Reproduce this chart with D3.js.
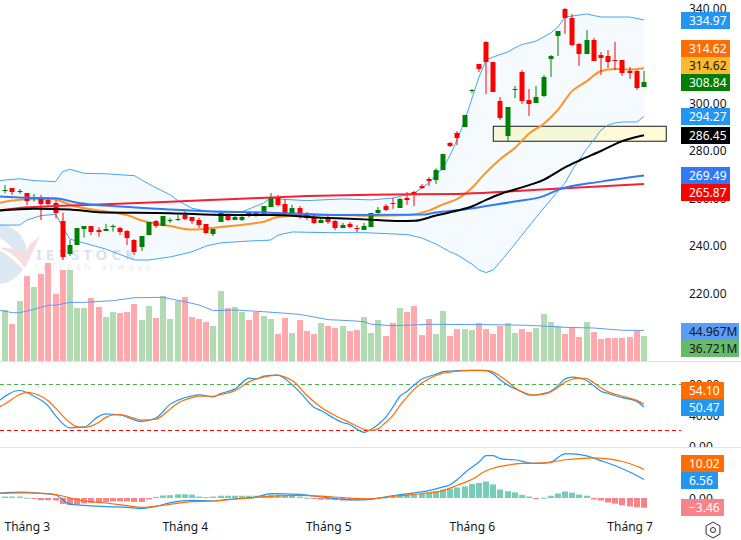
<!DOCTYPE html>
<html>
<head>
<meta charset="utf-8">
<script src="https://cdn.jsdelivr.net/npm/d3@7/dist/d3.min.js"></script>
<style>
  html, body { margin: 0; padding: 0; background: #fff; }
  svg { display: block; }
  text { font-family: "Noto Sans", sans-serif; font-size: 12px; }
</style>
</head>
<body>
<svg id="chart" width="741" height="540"></svg>
<script>
// Daily sessions: [open, high, low, close]
const ohlc = [
  [263.2,265.5,262.0,263.5],[264.1,264.1,261.3,262.3],[262.7,263.8,261.7,263.0],[262.1,262.1,257.1,258.9],
  [259.6,261.7,258.5,260.1],[260.0,261.3,250.7,257.6],[259.0,260.3,256.4,257.3],[257.8,259.2,251.4,253.4],
  [250.3,253.8,233.9,235.0],[236.4,242.3,235.6,240.2],[240.2,247.4,240.2,247.4],[247.0,248.2,243.3,248.2],
  [248.2,248.2,244.4,245.7],[246.4,247.7,243.7,245.7],[246.3,249.1,246.3,247.0],[247.5,248.9,245.8,248.1],
  [247.5,247.9,244.4,245.7],[246.1,246.5,240.2,243.0],[242.3,242.7,236.0,237.1],[239.5,244.0,237.7,244.0],
  [244.6,249.9,244.6,249.9],[250.3,250.7,247.4,248.4],[248.4,252.4,248.4,252.4],[250.3,251.6,249.5,250.7],
  [250.6,252.8,250.3,251.0],[252.8,254.4,250.7,251.2],[252.0,252.0,249.1,250.3],[250.7,251.6,247.4,248.8],
  [248.9,248.9,245.0,245.0],[244.7,247.0,244.0,247.0],[249.9,253.5,249.9,253.5],[253.3,253.3,250.3,250.9],
  [250.9,253.1,250.7,252.0],[250.9,253.1,250.3,252.0],[253.5,254.4,251.9,252.7],[253.5,254.4,252.1,253.0],
  [252.8,256.6,252.8,256.6],[256.4,262.1,256.4,260.4],[260.4,261.3,256.4,257.2],[257.5,259.6,252.8,253.3],
  [253.3,257.1,252.8,255.8],[255.8,256.6,251.3,253.3],[253.7,254.1,250.7,251.6],[252.0,253.3,249.1,249.5],
  [249.5,251.9,249.5,250.7],[251.2,252.8,249.1,249.9],[250.3,250.7,246.5,247.4],[247.4,249.5,247.4,248.6],
  [249.1,249.9,247.4,247.8],[247.4,248.6,245.7,246.8],[246.5,249.5,246.5,248.2],[247.8,253.7,247.8,253.7],
  [253.7,256.2,253.3,255.0],[256.6,257.5,254.5,255.0],[257.9,260.0,255.4,257.3],[255.8,260.0,255.8,259.6],
  [260.0,262.5,257.1,259.2],[262.5,263.0,256.6,261.3],[265.2,265.9,263.8,264.5],[268.0,268.8,265.1,267.2],
  [267.6,272.5,265.9,271.8],[271.8,278.5,271.8,278.5],[283.0,283.6,281.5,281.9],[287.4,288.2,282.3,285.3],
  [289.9,295.0,289.9,295.0],[304.8,305.9,304.2,305.3],[316.4,316.4,313.1,314.3],[325.7,326.1,303.8,317.3],
  [317.3,317.3,304.6,304.6],[300.8,302.5,292.8,293.7],[286.1,298.3,283.7,298.3],[305.2,307.2,302.1,305.7],
  [313.1,313.9,299.6,300.8],[301.3,305.9,294.5,299.6],[300.0,307.2,300.0,302.5],[303.0,311.8,302.5,311.0],
  [318.5,320.2,311.0,319.8],[328.2,330.3,319.8,330.3],[339.6,340.0,329.1,335.8],[335.8,337.5,324.0,324.4],
  [324.8,325.3,315.6,320.6],[320.6,330.7,320.6,326.5],[326.5,327.4,317.7,317.7],[320.2,321.5,311.8,319.0],
  [319.8,322.3,314.7,317.3],[318.1,325.7,313.9,317.7],[318.1,318.1,311.4,312.6],[313.5,315.2,310.1,312.6],
  [313.5,313.9,305.5,306.3],[306.7,313.5,306.7,308.84]
];

// Traded volume per session, in millions of shares
const volume = [
  75.0,54.4,88.2,124.9,108.8,127.9,144.1,98.5,133.8,133.8,77.9,77.9,92.6,79.4,64.7,72.0,70.6,72.0,83.8,60.3,
  80.9,63.2,95.6,61.7,88.2,94.1,64.7,61.7,57.3,51.5,102.9,77.9,79.4,72.0,60.3,72.0,66.2,61.7,39.7,63.2,
  41.2,60.3,44.1,39.7,55.9,51.5,48.5,51.5,44.1,45.6,64.7,41.2,60.3,36.8,55.9,77.9,71.9,80.9,38.2,61.7,
  39.7,73.5,36.8,47.0,47.0,45.6,55.9,47.0,39.7,51.5,55.9,41.2,47.0,42.6,48.5,69.1,57.3,51.5,39.7,50.0,
  35.3,57.3,42.6,32.3,33.8,33.8,33.8,35.3,44.1,36.721
];

// MACD histogram per session
const macdHist = [
  0.5,0.5,0.5,0.1,-0.05,-0.8,-0.8,-0.9,-2.1,-2.5,-2.3,-1.9,-1.7,-1.5,-1.5,-1.2,-1.2,-1.2,-1.4,-1.4,
  -0.5,0.4,0.9,1.0,1.3,1.3,1.2,0.5,0.3,0.5,0.8,0.8,0.8,0.8,0.8,0.8,0.9,1.2,1.2,1.0,
  0.8,0.5,0.1,-0.2,-0.6,-0.6,-0.7,-0.9,-0.9,-0.8,-0.7,-0.1,0.1,0.2,0.4,0.8,1.1,1.3,1.5,1.9,
  2.4,3.0,3.3,3.7,4.1,5.0,5.3,5.8,4.8,3.0,2.4,2.0,1.1,0.5,-0.2,0.1,0.8,1.6,2.3,1.9,
  1.2,0.8,-0.5,-0.9,-1.6,-2.0,-2.6,-3.0,-3.3,-3.46
];

// Overlay series as [session, value] readings
const bandUpper = [[-1,267.3],[2,268.1],[4,267.3],[7,266.9],[8,271.1],[9,272.1],[11,270.4],[14,270.2],[18,269.4],[19,267.6],[21,264.3],[23,261.3],[24,259.0],[26,255.7],[28,254.5],[31,253.6],[33,254.2],[36,257.9],[37,260.0],[39,259.4],[42,258.9],[47,259.6],[51,259.2],[54,260.0],[57,262.1],[59,266.3],[60,269.7],[61,272.6],[62,278.1],[63,284.9],[64,292.4],[65,301.7],[66,310.9],[67,318.1],[68,319.4],[70,321.5],[71,323.2],[72,324.6],[74,326.1],[76,329.5],[77,332.0],[78,336.2],[79,336.6],[81,337.5],[83,336.2],[87,336.2],[89,334.97]];
const bandLower = [[-1,248.6],[2,248.6],[3,250.7],[5,252.6],[7,253.1],[8,247.8],[9,242.7],[11,241.0],[14,238.5],[18,233.9],[20,233.9],[23,235.2],[26,237.3],[28,239.8],[30,241.1],[34,241.9],[36,242.1],[37,242.3],[38,244.4],[40,245.7],[45,245.4],[50,245.4],[56,244.6],[58,243.2],[60,240.6],[62,237.3],[63,236.0],[65,232.2],[66,229.7],[67,228.6],[68,229.7],[70,236.8],[72,244.4],[74,252.0],[76,259.2],[77,262.9],[78,266.3],[79,271.8],[81,280.6],[82,284.4],[83,288.6],[84,290.7],[85,291.6],[86,292.0],[88,292.0],[89,294.27]];
const maOrange = [[-1,257.8],[1,258.9],[3,259.5],[7,259.5],[8,258.3],[10,256.3],[13,254.7],[17,252.8],[19,250.5],[23,248.2],[26,246.7],[30,247.8],[34,249.1],[36,250.0],[38,252.0],[42,252.8],[47,252.8],[51,252.5],[56,252.8],[59,254.7],[61,257.3],[63,259.6],[65,264.2],[67,270.8],[69,276.4],[71,281.1],[73,287.2],[75,291.2],[77,297.1],[79,305.1],[81,309.1],[83,313.5],[85,314.3],[87,314.1],[89,314.62]];
const maBlack = [[-1,254.7],[4,255.5],[9,255.2],[13,254.0],[23,253.6],[31,252.8],[37,252.8],[44,251.7],[50,251.0],[55,250.3],[57,250.4],[60,252.6],[63,254.7],[65,256.4],[67,259.2],[69,261.7],[71,263.6],[75,267.6],[78,272.9],[80,275.8],[83,279.8],[86,284.0],[89,286.45]];
const maBlue = [[-1,260.7],[3,260.1],[7,259.9],[10,258.0],[16,256.4],[23,255.2],[31,254.2],[37,253.8],[47,252.8],[58,253.0],[60,253.9],[64,255.2],[67,256.6],[71,258.5],[75,260.8],[77,263.4],[83,266.9],[89,269.49]];
const maRed = [[-1,254.7],[3,256.1],[7,256.6],[13,257.3],[23,258.4],[32,259.6],[42,260.8],[51,261.4],[63,261.7],[70,262.7],[78,264.1],[89,265.87]];
const volumeMA = [[-1,75],[1,71],[2,71],[4,76],[6,82],[7,82],[9,86.2],[11,86.2],[15,88.7],[18,93],[22,93.6],[25,87.2],[27,82.3],[29,74],[32,75],[36,72.5],[41,68.6],[45,60.8],[48,59.3],[50,57.8],[51,53.9],[54,51.9],[59,53.9],[68,53.4],[73,52.4],[78,49.5],[82,48.5],[86,45.1],[89,44.967]];
const stochK = [[-1,58],[2,72.2],[4,64.7],[6,51.8],[7,39.3],[9,23.3],[10,24.2],[11,24.7],[13,38.4],[14,41.6],[15,41.1],[16,40.2],[19,31.8],[21,36.2],[23,54.4],[24,59.3],[26,65.1],[27,66.4],[29,63.8],[30,68.2],[32,74],[34,88.2],[35,87.3],[36,90.9],[38,92.2],[39,87.3],[41,70.4],[43,50.4],[44,46],[46,34.9],[47,30.4],[48,27.8],[49,21.6],[50,17.6],[51,21.6],[52,28.2],[53,37.1],[54,50.4],[55,64.7],[56,71.3],[57,79.3],[58,86.9],[59,90.4],[60,93.6],[61,96.7],[62,97.6],[63,98],[65,98.4],[67,98],[68,93.6],[69,86],[70,79.3],[72,70.4],[73,66],[75,68.2],[76,71.3],[77,78.4],[78,87.3],[79,89.6],[80,88.2],[81,85.1],[82,78.4],[83,71.3],[84,68.2],[86,62.9],[88,58],[89,50.47]];
const stochD = [[-1,50],[0,54.9],[2,66.9],[3,69.6],[4,68.2],[6,58.4],[7,49.1],[9,30.4],[10,24.7],[11,24.2],[13,30.4],[14,37.1],[15,40.2],[16,40.7],[18,35.8],[19,33.6],[21,34.9],[23,48.2],[24,55.3],[26,62.9],[27,64.7],[29,64.7],[30,66.9],[32,71.8],[34,83.8],[36,89.6],[38,92.2],[39,89.6],[40,85.1],[42,66],[44,50.4],[46,39.3],[48,30.4],[50,21.6],[51,20],[52,22.4],[53,30.4],[54,39.3],[55,52.7],[56,63.8],[57,74],[58,81.6],[59,87.3],[60,91.8],[61,94.9],[62,96.2],[64,98],[66,98.4],[67,98.4],[68,96.2],[69,90.4],[70,83.8],[71,75.8],[72,70.4],[73,67.3],[74,66.4],[75,67.3],[76,70.4],[77,76.2],[78,82.9],[79,86.9],[80,88.2],[81,87.8],[82,82.4],[83,75.8],[84,70.4],[86,64.7],[88,59.3],[89,54.1]];
const macdLine = [[-1,1.65],[2,2.1],[5,1.65],[7,1.06],[9,-2.2],[11,-2.6],[14,-3.07],[17,-3.3],[19,-3.66],[21,-2.95],[23,-1.65],[26,-0.83],[29,-1.06],[31,-0.47],[35,0.35],[37,1.53],[41,1.3],[44,0.35],[47,-0.47],[49,-0.7],[51,-0.47],[52,0],[55,1.18],[59,2.6],[60,3.2],[61,3.9],[62,4.7],[63,6.5],[64,8.85],[66,12.7],[67,15],[68,15],[69,13.9],[70,13.6],[71,13.5],[73,12.4],[74,12.2],[76,12.7],[78,15.6],[79,15.6],[81,14.9],[83,13.2],[85,11.4],[87,9.2],[89,6.56]];
const macdSignal = [[-1,1.65],[3,1.77],[6,1.53],[8,0.7],[10,-0.7],[14,-1.77],[17,-2.7],[19,-3.3],[22,-2.6],[26,-1.3],[29,-1.06],[33,-0.24],[37,0.59],[41,0.94],[45,0.47],[48,0],[51,-0.35],[52,-0.1],[55,0.83],[58,1.5],[61,2.6],[63,4.5],[65,6.5],[67,9.6],[68,10.5],[70,11.6],[72,12.2],[74,12.3],[76,12.6],[78,13.5],[80,13.9],[82,14.2],[84,13.8],[86,12.9],[88,11.2],[89,10.02]];

// Support zone: first session, last session, upper and lower price
const zoneSessions = [68, 92.1];
const zonePrices = [290.2, 283.9];

// Axis ticks
const priceTicks = [340, 320, 300, 280, 260, 240, 220];
const stochTicks = [80, 40, 0];
const macdTicks = [0];
const monthSessions = [3, 25, 45, 65, 87];
const monthNames = ["Tháng 3", "Tháng 4", "Tháng 5", "Tháng 6", "Tháng 7"];
const stochLevels = [80, 20];

// Last-value tags: text, tag top, tag width, background, text colour
const priceTags = [
  ["334.97", 12, 49, "#2196f3", "#fff"],
  ["314.62", 40, 49, "#ff6d00", "#fff"],
  ["314.62", 57, 49, "#ffb92e", "#131722"],
  ["308.84", 74, 49, "#008000", "#fff"],
  ["294.27", 108, 49, "#2196f3", "#fff"],
  ["286.45", 127, 49, "#000000", "#fff"],
  ["269.49", 167, 49, "#3179f5", "#fff"],
  ["265.87", 184, 49, "#ff0000", "#fff"],
  ["44.967M", 323, 58, "#5b9cf6", "#131722"],
  ["36.721M", 340, 58, "#66bb6a", "#131722"],
  ["54.10", 382, 43, "#ff6d00", "#fff"],
  ["50.47", 399, 43, "#2196f3", "#fff"],
  ["10.02", 455, 43, "#ff6d00", "#fff"],
  ["6.56", 472, 37, "#2196f3", "#fff"],
  ["−3.46", 499, 43, "#f88388", "#fff"]
];

const UP = "#008000", DOWN = "#ff0000";
const svg = d3.select("#chart");
const defs = svg.append("defs");
defs.append("clipPath").attr("id", "stochClip").append("rect").attr("x", 0).attr("y", 365).attr("width", 741).attr("height", 82);

const x = d3.scaleLinear().domain([0, 89]).range([5.3, 644]);
const yPrice = d3.scaleLinear().domain([220, 340]).range([293, 8]);
const yVol = d3.scaleLinear().domain([0, 44.1]).range([361, 331]);
const yStoch = d3.scaleLinear().domain([0, 80]).range([445.83, 384.5]);
const yMacd = d3.scaleLinear().domain([-4, 16]).range([509.3, 452.7]);

const lineOf = y => d3.line().x(d => x(d[0])).y(d => y(d[1]));
const smoothOf = y => lineOf(y).curve(d3.curveMonotoneX);
const snap = v => Math.round(v);

// Faded VietStock logo behind the price pane
const mark = svg.append("g").attr("class", "watermark");
mark.append("circle").attr("cx", -3).attr("cy", 254).attr("r", 30).attr("fill", "#dde8f3");
mark.append("path").attr("d", "M-2 237 C10 243 20 256 26 272 C16 262 8 254 -2 250 Z").attr("fill", "#fff");
mark.append("path").attr("d", "M0 248 C10 252 18 258 25 268 L40 236 L30 244 L25 254 C18 250 9 247 0 248 Z").attr("fill", "#f8dde0");
mark.append("text").attr("x", 36).attr("y", 260).attr("fill", "#dbe4ee").attr("font-weight", 700).style("font-size", "15px").style("letter-spacing", "4px").text("IETSTOCK");
mark.append("text").attr("x", 35).attr("y", 270).attr("fill", "#ebebeb").style("font-size", "9px").style("letter-spacing", "4.2px").text("refresh always");

// Bollinger band fill and edges
const bandPath = lineOf(yPrice)(bandUpper.concat(bandLower.slice().reverse())) + "Z";
svg.append("path").attr("d", bandPath).attr("fill", "#2196f3").attr("fill-opacity", 0.05);

// Support zone
svg.append("rect")
  .attr("x", x(zoneSessions[0])).attr("y", yPrice(zonePrices[0]))
  .attr("width", x(zoneSessions[1]) - x(zoneSessions[0]))
  .attr("height", yPrice(zonePrices[1]) - yPrice(zonePrices[0]))
  .attr("fill", "#ffeb3b").attr("fill-opacity", 0.2)
  .attr("stroke", "#1a1a1a").attr("stroke-width", 1);

const overlay = (data, color, width, gen) => svg.append("path")
  .attr("d", (gen || lineOf(yPrice))(data)).attr("fill", "none")
  .attr("stroke", color).attr("stroke-width", width).attr("stroke-linejoin", "round");
overlay(bandUpper, "#42a5f5", 1);
overlay(bandLower, "#42a5f5", 1);
overlay(maOrange, "#ff9323", 2, smoothOf(yPrice));

// Candles
const candle = svg.append("g").selectAll("g").data(ohlc).join("g")
  .attr("fill", d => d[3] >= d[0] ? UP : DOWN);
candle.append("rect")
  .attr("x", (d, i) => snap(x(i)) - 0.5).attr("width", 1)
  .attr("y", d => yPrice(d[1])).attr("height", d => yPrice(d[2]) - yPrice(d[1]));
candle.append("rect")
  .attr("x", (d, i) => snap(x(i)) - 2.5).attr("width", 5)
  .attr("y", d => snap(yPrice(Math.max(d[0], d[3]))))
  .attr("height", d => Math.max(1, snap(Math.abs(yPrice(d[0]) - yPrice(d[3])))));

overlay(maRed, "#f4222f", 2, smoothOf(yPrice));
overlay(maBlue, "#3179f5", 2, smoothOf(yPrice));
overlay(maBlack, "#000000", 2, smoothOf(yPrice));

// Volume pane
svg.append("g").selectAll("rect").data(volume).join("rect")
  .attr("x", (d, i) => snap(x(i)) - 3).attr("width", 6)
  .attr("y", d => yVol(d)).attr("height", d => 361 - yVol(d))
  .attr("fill", (d, i) => ohlc[i][3] >= ohlc[i][0] ? "#b2dbb2" : "#ffa8ad");
svg.append("path").attr("d", lineOf(yVol)(volumeMA)).attr("fill", "none").attr("stroke", "#5b9cf6").attr("stroke-width", 1);

// Pane separators
svg.selectAll("line.sep").data([361.5, 447.5]).join("line").attr("class", "sep")
  .attr("x1", 0).attr("x2", 741).attr("y1", d => d).attr("y2", d => d)
  .attr("stroke", "#e0e3eb");

// Stochastic RSI pane
svg.selectAll("line.level").data(stochLevels).join("line").attr("class", "level")
  .attr("x1", 0).attr("x2", 681).attr("y1", d => yStoch(d)).attr("y2", d => yStoch(d))
  .attr("stroke", (d, i) => i === 0 ? "#4caf50" : "#ff0000")
  .attr("stroke-width", 1).attr("stroke-dasharray", "4 3");
svg.append("path").attr("d", smoothOf(yStoch)(stochK)).attr("fill", "none").attr("stroke", "#2196f3").attr("stroke-width", 1.2);
svg.append("path").attr("d", smoothOf(yStoch)(stochD)).attr("fill", "none").attr("stroke", "#ff6d00").attr("stroke-width", 1.2);

// MACD pane
svg.append("g").selectAll("rect").data(macdHist).join("rect")
  .attr("x", (d, i) => snap(x(i)) - 3).attr("width", 6)
  .attr("y", d => Math.min(yMacd(d), yMacd(0)))
  .attr("height", d => Math.max(1, Math.abs(yMacd(d) - yMacd(0))))
  .attr("fill", d => d >= 0 ? "#76ceb9" : "#f88388");
svg.append("path").attr("d", smoothOf(yMacd)(macdLine)).attr("fill", "none").attr("stroke", "#2196f3").attr("stroke-width", 1.2);
svg.append("path").attr("d", smoothOf(yMacd)(macdSignal)).attr("fill", "none").attr("stroke", "#ff6d00").attr("stroke-width", 1.2);

// Axes
const rightAxis = (scale, ticks) => d3.axisRight(scale).tickValues(ticks).tickSize(0).tickPadding(0).tickFormat(d3.format(".2f"));
const styleAxis = g => {
  g.select(".domain").remove();
  g.selectAll("text").attr("fill", "#131722").attr("dy", "0.36em").style("font-size", "12px");
};
svg.append("g").attr("transform", "translate(689,0)").call(rightAxis(yPrice, priceTicks)).call(styleAxis);
svg.append("g").attr("transform", "translate(689,0)").attr("clip-path", "url(#stochClip)").call(rightAxis(yStoch, stochTicks)).call(styleAxis);
svg.append("g").attr("transform", "translate(689,0)").call(rightAxis(yMacd, macdTicks)).call(styleAxis);

svg.append("g").attr("transform", "translate(0,522)")
  .call(d3.axisBottom(x).tickValues(monthSessions).tickSize(0).tickPadding(0).tickFormat((d, i) => monthNames[i]))
  .call(g => {
    g.select(".domain").remove();
    g.selectAll("text").attr("fill", "#131722").attr("dy", "0.71em").style("font-size", "12px");
  });

// Last-value tags
const tag = svg.append("g").selectAll("g").data(priceTags).join("g");
tag.append("rect").attr("x", 681).attr("y", d => d[1]).attr("width", d => d[2]).attr("height", 17).attr("fill", d => d[3]);
tag.append("text").attr("x", 689).attr("y", d => d[1] + 8.5).attr("dy", "0.36em").attr("fill", d => d[4]).text(d => d[0]);

// Settings button
const hex = d3.range(6).map(k => {
  const a = Math.PI / 6 + k * Math.PI / 3;
  return [713 + 8 * Math.cos(a), 530 + 8 * Math.sin(a)];
});
svg.append("path").attr("d", d3.line()(hex) + "Z").attr("fill", "none").attr("stroke", "#2a2e39").attr("stroke-width", 1);
svg.append("circle").attr("cx", 713).attr("cy", 530).attr("r", 2.5).attr("fill", "none").attr("stroke", "#2a2e39");
</script>
</body>
</html>
